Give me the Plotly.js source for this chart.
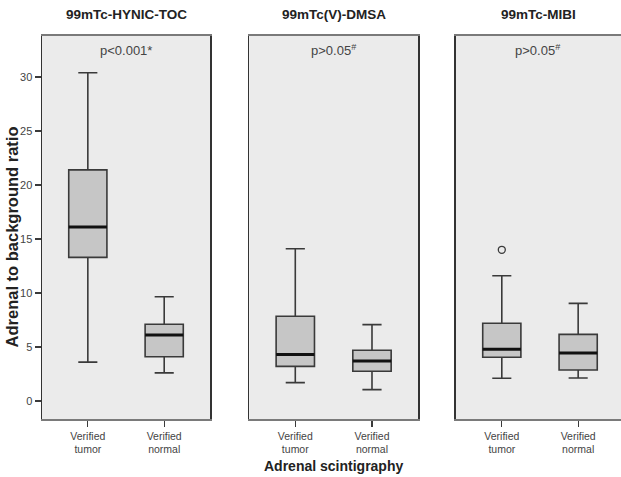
<!DOCTYPE html>
<html><head><meta charset="utf-8">
<script src="https://cdn.plot.ly/plotly-3.0.1.min.js"></script>
<style>body{margin:0;padding:0;background:#fff}#c{width:621px;height:477px}</style>
</head><body><div id="c"></div>
<script>
const panels = ["99mTc-HYNIC-TOC", "99mTc(V)-DMSA", "99mTc-MIBI"];
const pLabels = ["p<0.001*", "p>0.05<sup>#</sup>", "p>0.05<sup>#</sup>"];
const groups = ["Verified<br>tumor", "Verified<br>normal"];
// per panel: [tumor, normal]
const lowerW = [[3.6, 2.6], [1.7, 1.05], [2.1, 2.13]];
const q1 = [[13.3, 4.1], [3.2, 2.75], [4.05, 2.87]];
const med = [[16.1, 6.1], [4.3, 3.7], [4.8, 4.44]];
const q3 = [[21.4, 7.1], [7.85, 4.7], [7.2, 6.17]];
const upperW = [[30.4, 9.65], [14.1, 7.07], [11.6, 9.04]];
const outliers = [[[], []], [[], []], [[14.0], []]];

const domains = [[0, 0.2902], [0.358, 0.6494], [0.715, 1]];
const ranges = [[-0.6, 1.6], [-0.6, 1.6], [-0.6, 1.561]];
const yRange = [-1.67, 33.8];
const boxFill = "#c6c6c6", lineC = "#3a3a3a";

const data = [];
const layout = {
  width: 621, height: 477,
  margin: {l: 42, r: 0, t: 36, b: 58},
  paper_bgcolor: "#ffffff", plot_bgcolor: "#ebebeb",
  showlegend: false,
  font: {family: "Arial, Liberation Sans, sans-serif", color: "#444", size: 11},
  annotations: [], shapes: []
};

panels.forEach((name, p) => {
  const sfx = p === 0 ? "" : String(p + 1);
  const xa = "x" + sfx, ya = "y" + sfx;
  [0, 1].forEach(g => {
    data.push({
      type: "box", xaxis: xa, yaxis: ya,
      x: [g], q1: [q1[p][g]], median: [med[p][g]], q3: [q3[p][g]],
      lowerfence: [lowerW[p][g]], upperfence: [upperW[p][g]],
      width: 0.5, whiskerwidth: 0.5,
      fillcolor: boxFill, line: {color: lineC, width: 1.6},
      boxpoints: false, hoverinfo: "skip"
    });
    // thicker median line
    data.push({
      type: "scatter", mode: "lines", xaxis: xa, yaxis: ya,
      x: [g - 0.25, g + 0.25], y: [med[p][g], med[p][g]],
      line: {color: "#111", width: 3}, hoverinfo: "skip"
    });
    if (outliers[p][g].length) {
      data.push({
        type: "scatter", mode: "markers", xaxis: xa, yaxis: ya,
        x: outliers[p][g].map(() => g), y: outliers[p][g],
        marker: {symbol: "circle-open", size: 7, color: lineC, line: {width: 1.3}},
        hoverinfo: "skip"
      });
    }
  });
  layout["xaxis" + sfx] = {
    domain: domains[p], range: ranges[p], anchor: ya,
    tickvals: [0, 1], ticktext: groups,
    ticks: "outside", ticklen: 6, tickcolor: lineC, tickwidth: 1.2,
    showline: true, linecolor: "#7a7a7a", linewidth: 2, mirror: true,
    showgrid: false, zeroline: false, fixedrange: true,
    tickfont: {size: 10.5, color: "#444"}
  };
  layout["yaxis" + sfx] = {
    domain: [0, 1], range: yRange, anchor: xa,
    showgrid: false, zeroline: false, fixedrange: true,
    showline: true, linecolor: "#333", linewidth: 1.5, mirror: p < 2,
    ticks: p === 0 ? "outside" : "", ticklen: 6, tickcolor: lineC, tickwidth: 1.2,
    showticklabels: p === 0, tickvals: [0, 5, 10, 15, 20, 25, 30],
    tickfont: {size: 11, color: "#444"}
  };
  const dc = (domains[p][0] + domains[p][1]) / 2;
  layout.annotations.push({
    text: "<b>" + name + "</b>", xref: "paper", yref: "paper",
    x: dc, xanchor: "center", y: 1, yshift: 22, yanchor: "middle",
    showarrow: false, font: {size: 13.5, color: "#222"}
  });
  layout.annotations.push({
    text: pLabels[p], xref: xa + " domain", yref: "paper",
    x: 0.5, xanchor: "center", y: 1, yshift: -14, yanchor: "middle",
    showarrow: false, font: {size: 13, color: "#444"}
  });
});
layout.annotations.push({
  text: "<b>Adrenal to background ratio</b>", xref: "paper", yref: "paper",
  x: -0.0449, xanchor: "center", xshift: -4, y: 0.474, yanchor: "middle", textangle: -90,
  showarrow: false, font: {size: 16.5, color: "#222"}
});
layout.annotations.push({
  text: "<b>Adrenal scintigraphy</b>", xref: "paper", yref: "paper",
  x: 0.503, xanchor: "center", y: 0, yshift: -47, yanchor: "middle",
  showarrow: false, font: {size: 14, color: "#222"}
});

Plotly.newPlot("c", data, layout, {staticPlot: true, displayModeBar: false});
</script></body></html>
